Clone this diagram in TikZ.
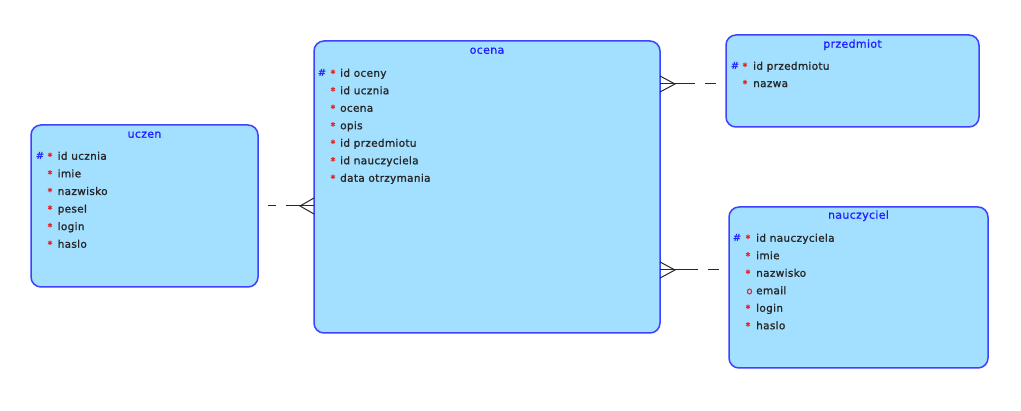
\documentclass[tikz,border=0pt]{standalone}
\usepackage{fontspec}
\usetikzlibrary{calc}
\newfontfamily\erfont[LetterSpace=3]{DejaVu Sans}
\newfontfamily\erboldfont[LetterSpace=3,FakeBold=1.2]{DejaVu Sans}
\newfontfamily\ertitlefont[LetterSpace=3,FakeBold=0.6]{DejaVu Sans}
\definecolor{entfill}{RGB}{163,224,255}
\definecolor{entline}{RGB}{64,64,255}
\definecolor{titleblue}{RGB}{30,30,255}
\definecolor{keyred}{RGB}{235,30,30}
\definecolor{relline}{RGB}{40,40,40}
\tikzset{
  entity/.style={draw=entline, fill=entfill, line width=1.5pt, rounded corners=10pt,
                 anchor=north west, inner sep=0pt, outer sep=0pt},
  etitle/.style={font=\ertitlefont\fontsize{11}{13}\selectfont, text=titleblue,
                 inner sep=0pt, text height=8pt, text depth=2.5pt},
  attr/.style={font=\erboldfont\fontsize{10.5}{12}\selectfont, text=black!85, anchor=west,
               inner sep=0pt, text height=8pt, text depth=2.5pt},
  pkmark/.style={font=\erfont\bfseries\fontsize{10}{12}\selectfont, text=titleblue,
                 inner sep=0pt, text height=8pt, text depth=2.5pt},
  reqmark/.style={font=\erboldfont\fontsize{9.5}{11}\selectfont, text=keyred,
                  inner sep=0pt, text height=8pt, text depth=2.5pt},
  optmark/.style={font=\erboldfont\fontsize{10}{12}\selectfont, text=keyred,
                  inner sep=0pt, text height=8pt, text depth=2.5pt},
  rel/.style={draw=relline, line width=1pt},
}
\begin{document}
\begin{tikzpicture}[x=1pt,y=-1pt]
\useasboundingbox (0,0) rectangle (1021,411);
\fill[white] (0,0) rectangle (1021,411);

% ---------- entities ----------
\node[entity, minimum width=227pt, minimum height=162pt] (uczen) at (31,125) {};
\node[entity, minimum width=346pt, minimum height=292pt] (ocena) at (314,41) {};
\node[entity, minimum width=253pt, minimum height=92pt] (przedmiot) at (726,35) {};
\node[entity, minimum width=259pt, minimum height=161pt] (nauczyciel) at (729,207) {};

% ---------- titles ----------
\node[etitle] (uczen-t) at (144.5,135) {uczen};
\node[etitle] (ocena-t) at (487,51) {ocena};
\node[etitle] (przedmiot-t) at (852.5,45) {przedmiot};
\node[etitle] (nauczyciel-t) at (858.5,216) {nauczyciel};

% ---------- uczen ----------
\node[pkmark] (uczen-pk) at (40,157) {\#};
\foreach \t [count=\i] in {id ucznia, imie, nazwisko, pesel, login, haslo} {
  \node[reqmark] (uczen-r\i) at (50,{157+17.6*(\i-1)}) {*};
  \node[attr] (uczen-a\i) at (57.5,{157+17.6*(\i-1)}) {\t};
}

% ---------- ocena ----------
\node[pkmark] (ocena-pk) at (322,74) {\#};
\foreach \t [count=\i] in {id oceny, id ucznia, ocena, opis, id przedmiotu, id nauczyciela, data otrzymania} {
  \node[reqmark] (ocena-r\i) at (333,{74+17.5*(\i-1)}) {*};
  \node[attr] (ocena-a\i) at (340,{74+17.5*(\i-1)}) {\t};
}

% ---------- przedmiot ----------
\node[pkmark] (przedmiot-pk) at (735,67) {\#};
\foreach \t [count=\i] in {id przedmiotu, nazwa} {
  \node[reqmark] (przedmiot-r\i) at (745,{67+17.3*(\i-1)}) {*};
  \node[attr] (przedmiot-a\i) at (753,{67+17.3*(\i-1)}) {\t};
}

% ---------- nauczyciel ----------
\node[pkmark] (nauczyciel-pk) at (737,239) {\#};
\node[reqmark] (nauczyciel-r1) at (748,239) {*};
\node[attr] (nauczyciel-a1) at (756,239) {id nauczyciela};
\node[reqmark] (nauczyciel-r2) at (748,256.5) {*};
\node[attr] (nauczyciel-a2) at (756,256.5) {imie};
\node[reqmark] (nauczyciel-r3) at (748,274) {*};
\node[attr] (nauczyciel-a3) at (756,274) {nazwisko};
\node[optmark] (nauczyciel-o4) at (749.5,291.5) {o};
\node[attr] (nauczyciel-a4) at (756,291.5) {email};
\node[reqmark] (nauczyciel-r5) at (748,309) {*};
\node[attr] (nauczyciel-a5) at (756,309) {login};
\node[reqmark] (nauczyciel-r6) at (748,326.5) {*};
\node[attr] (nauczyciel-a6) at (756,326.5) {haslo};

% ---------- relationships ----------
% uczen 1 --< ocena
\coordinate (u1) at (uczen.east);
\coordinate (o1) at (ocena.west |- u1);
\coordinate (m1) at ($(u1)+(28,0)$);
\coordinate (f1) at ($(o1)+(-14,0)$);
\draw[rel, dash pattern=on 8pt off 10pt, dash phase=8pt] (u1) -- (m1);
\draw[rel] (m1) -- (o1);
\draw[rel] ($(o1)+(0,-8)$) -- (f1) -- ($(o1)+(0,8)$);

% ocena >-- przedmiot
\coordinate (p2) at ($(przedmiot.west)+(0,3)$);
\coordinate (o2) at (ocena.east |- p2);
\coordinate (m2) at ($(o2)+(35,0)$);
\coordinate (f2) at ($(o2)+(15,0)$);
\draw[rel] (o2) -- (m2);
\draw[rel, dash pattern=on 11pt off 10pt, dash phase=11pt] (m2) -- (p2);
\draw[rel] ($(o2)+(0,-8)$) -- (f2) -- ($(o2)+(0,8)$);

% ocena >-- nauczyciel
\coordinate (n3) at ($(nauczyciel.west)+(0,-17.5)$);
\coordinate (o3) at (ocena.east |- n3);
\coordinate (m3) at ($(o3)+(38,0)$);
\coordinate (f3) at ($(o3)+(15,0)$);
\draw[rel] (o3) -- (m3);
\draw[rel, dash pattern=on 11pt off 10pt, dash phase=11pt] (m3) -- (n3);
\draw[rel] ($(o3)+(0,-8)$) -- (f3) -- ($(o3)+(0,8)$);
\end{tikzpicture}
\end{document}
